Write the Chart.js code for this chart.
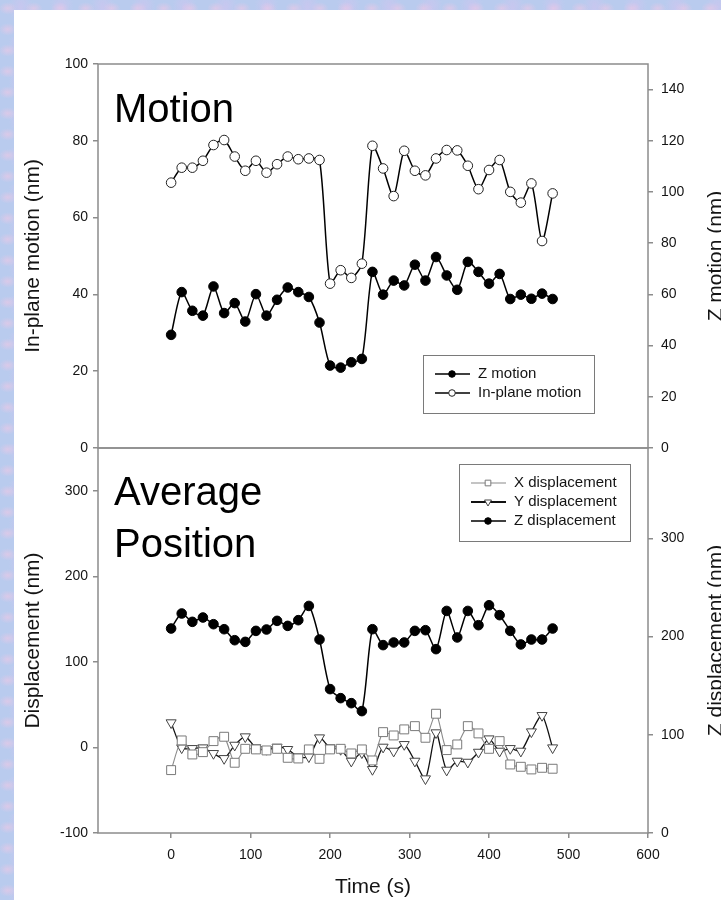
<!DOCTYPE html>
<html>
<head>
<meta charset="utf-8">
<title>Motion and average position</title>
<script src="https://cdn.jsdelivr.net/npm/chart.js@4.4.0/dist/chart.umd.min.js"></script>
<style>
  html, body { margin: 0; padding: 0; }
  body {
    width: 721px;
    height: 900px;
    overflow: hidden;
    position: relative;
    background-color: #b9cbee;
    background-image:
      radial-gradient(ellipse at 30% 40%, rgba(232, 200, 230, 0.7) 0, rgba(232, 200, 230, 0) 9px),
      radial-gradient(ellipse at 70% 70%, rgba(172, 212, 240, 0.7) 0, rgba(172, 212, 240, 0) 8px),
      radial-gradient(ellipse at 50% 20%, rgba(210, 196, 240, 0.6) 0, rgba(210, 196, 240, 0) 12px);
    background-size: 26px 21px, 33px 27px, 41px 37px;
  }
  #sheet { position: absolute; left: 14px; top: 10px; right: 0; bottom: 0; background: #ffffff; }
  canvas { position: absolute; left: 0; top: 0; }
</style>
</head>
<body>
<div id="sheet"></div>
<canvas id="motion" width="721" height="900"></canvas>
<canvas id="position" width="721" height="900"></canvas>
<script>
// Sample times (s)
const TIME = [0, 13.3, 26.7, 40, 53.3, 66.7, 80, 93.3, 106.7, 120, 133.3, 146.7, 160, 173.3,
  186.7, 200, 213.3, 226.7, 240, 253.3, 266.7, 280, 293.3, 306.7, 320, 333.3, 346.7, 360,
  373.3, 386.7, 400, 413.3, 426.7, 440, 453.3, 466.7, 480];

// Top panel (nm)
const Z_MOTION = [44.2, 60.9, 53.6, 51.7, 63.1, 52.7, 56.6, 49.4, 60.1, 51.7, 57.9, 62.7, 60.9,
  59.0, 49.0, 32.2, 31.4, 33.5, 34.8, 68.8, 59.9, 65.4, 63.5, 71.6, 65.4, 74.6, 67.4, 61.8,
  72.7, 68.8, 64.2, 68.0, 58.2, 59.9, 58.3, 60.3, 58.2];
const INPLANE_MOTION = [69.1, 73.0, 73.0, 74.8, 78.9, 80.2, 75.9, 72.2, 74.8, 71.7, 73.9, 75.9,
  75.2, 75.4, 75.0, 42.8, 46.3, 44.3, 48.0, 78.7, 72.8, 65.6, 77.4, 72.2, 71.0, 75.4, 77.6,
  77.5, 73.5, 67.4, 72.4, 75.0, 66.7, 63.9, 68.9, 53.9, 66.3];

// Bottom panel (nm)
const X_DISP = [-26.5, 8.2, -8.2, -5.5, 7.4, 12.5, -17.9, -1.6, -2.3, -3.5, -1.6, -12.1, -12.9,
  -2.3, -13.3, -2.3, -1.6, -7.0, -2.3, -15.2, 17.9, 14.0, 21.1, 24.9, 11.3, 39.4, -3.1, 3.5,
  24.9, 16.4, -1.6, 7.4, -19.9, -22.6, -25.7, -23.8, -24.9];
const Y_DISP = [28.9, -0.4, -1.2, -0.4, -7.0, -12.9, 2.7, 12.5, -0.4, -2.3, 0.4, -2.3, -10.9,
  -10.9, 11.3, -0.4, -2.3, -16.0, -6.2, -25.7, 0.4, -4.3, 3.5, -16.0, -36.6, 17.2, -26.5,
  -16.0, -17.2, -5.5, 10.1, -4.3, -1.2, -4.3, 18.3, 37.4, -0.4];
const Z_DISP = [208.2, 223.5, 215.0, 219.4, 212.6, 207.5, 196.3, 194.6, 205.8, 207.2, 216.0,
  210.9, 216.7, 231.2, 197.0, 146.5, 137.3, 132.2, 124.1, 207.5, 191.3, 194.0, 194.0, 205.8,
  206.5, 187.2, 226.1, 199.1, 226.1, 211.6, 231.9, 221.8, 205.8, 192.0, 197.0, 197.0, 208.2];

// Tick labels
const TIME_TICKS = [0, 100, 200, 300, 400, 500, 600];
const INPLANE_TICKS = [0, 20, 40, 60, 80, 100];
const Z_MOTION_TICKS = [0, 20, 40, 60, 80, 100, 120, 140];
const DISP_TICKS = [-100, 0, 100, 200, 300];
const Z_DISP_TICKS = [0, 100, 200, 300];

const FONT = "'Liberation Sans', Arial, Helvetica, sans-serif";
const TEXT = '#141414';
const AXIS_GRAY = '#8c8c8c';

function pairs(values) {
  return TIME.map((t, i) => ({ x: t, y: values[i] }));
}

function fixedTicks(values) {
  return scale => { scale.ticks = values.map(v => ({ value: v })); };
}

function valueAxis(side, min, max, tickValues, width, title) {
  const axis = {
    type: 'linear',
    position: side,
    min: min,
    max: max,
    afterBuildTicks: fixedTicks(tickValues),
    afterFit: s => { s.width = width; },
    border: { display: false },
    grid: { drawOnChartArea: false, drawTicks: true, tickLength: 5, color: AXIS_GRAY, lineWidth: 1.5 },
    ticks: { color: TEXT, font: { family: FONT, size: 14 }, padding: side === 'left' ? 5 : 8,
      callback: v => String(v) },
  };
  if (title) {
    axis.title = { display: true, text: title, color: TEXT, font: { family: FONT, size: 21 },
      padding: { top: 21, bottom: 0 } };
  }
  return axis;
}

// Box around the plot area
const framePlugin = {
  id: 'frame',
  afterDatasetsDraw(chart) {
    const { ctx, chartArea: a } = chart;
    ctx.save();
    ctx.strokeStyle = AXIS_GRAY;
    ctx.lineWidth = 1.5;
    ctx.strokeRect(a.left, a.top, a.right - a.left, a.bottom - a.top);
    ctx.restore();
  },
};

// Big panel caption, e.g. "Motion"
const panelLabelPlugin = {
  id: 'panelLabel',
  afterDraw(chart, args, opts) {
    const ctx = chart.ctx;
    ctx.save();
    ctx.fillStyle = '#000';
    ctx.font = '40px ' + FONT;
    ctx.textBaseline = 'alphabetic';
    opts.lines.forEach((line, i) => ctx.fillText(line, opts.x, opts.y + i * opts.lineHeight));
    ctx.restore();
  },
};

// Right-hand axis title reading bottom to top
const sideTitlePlugin = {
  id: 'sideTitle',
  afterDraw(chart, args, opts) {
    const { ctx, chartArea: a } = chart;
    ctx.save();
    ctx.translate(opts.x, (a.top + a.bottom) / 2);
    ctx.rotate(-Math.PI / 2);
    ctx.fillStyle = TEXT;
    ctx.font = '21px ' + FONT;
    ctx.textAlign = 'center';
    ctx.textBaseline = 'middle';
    ctx.fillText(opts.text, 0, 0);
    ctx.restore();
  },
};

// Boxed legend inside the plot
const boxLegendPlugin = {
  id: 'boxLegend',
  afterDraw(chart, args, opts) {
    const ctx = chart.ctx;
    ctx.save();
    ctx.strokeStyle = '#7a7a7a';
    ctx.lineWidth = 1;
    ctx.strokeRect(opts.left + 0.5, opts.top + 0.5, opts.width, opts.height);
    chart.data.datasets.forEach((ds, i) => {
      const y = opts.top + 19 + i * 19;
      ctx.strokeStyle = ds.borderColor;
      ctx.lineWidth = ds.legendLineWidth || ds.borderWidth;
      ctx.beginPath();
      ctx.moveTo(opts.left + 12, y);
      ctx.lineTo(opts.left + 47, y);
      ctx.stroke();
      ctx.fillStyle = ds.pointBackgroundColor;
      ctx.strokeStyle = ds.pointBorderColor;
      ctx.lineWidth = 1;
      Chart.helpers.drawPoint(ctx, {
        pointStyle: ds.pointStyle || 'circle',
        radius: ds.legendRadius,
        rotation: ds.pointRotation || 0,
        borderWidth: 1,
      }, opts.left + 29, y);
      ctx.fillStyle = TEXT;
      ctx.font = '15px ' + FONT;
      ctx.textBaseline = 'middle';
      ctx.fillText(ds.label, opts.left + 55, y);
    });
    ctx.restore();
  },
};

const plugins = [framePlugin, panelLabelPlugin, sideTitlePlugin, boxLegendPlugin];

const timeAxisBase = {
  type: 'linear',
  min: -92,
  max: 600,
  afterBuildTicks: fixedTicks(TIME_TICKS),
};

new Chart(document.getElementById('motion'), {
  type: 'line',
  data: {
    datasets: [
      {
        label: 'Z motion',
        data: pairs(Z_MOTION),
        yAxisID: 'y2',
        borderColor: '#000',
        borderWidth: 1.5,
        pointRadius: 4.8,
        legendRadius: 3.3,
        pointBackgroundColor: '#000',
        pointBorderColor: '#000',
        pointBorderWidth: 1,
        tension: 0.25,
      },
      {
        label: 'In-plane motion',
        data: pairs(INPLANE_MOTION),
        yAxisID: 'y',
        borderColor: '#000',
        borderWidth: 1.5,
        pointRadius: 4.8,
        legendRadius: 3.3,
        pointBackgroundColor: '#fff',
        pointBorderColor: '#222',
        pointBorderWidth: 1,
        tension: 0.25,
      },
    ],
  },
  options: {
    responsive: false,
    animation: false,
    events: [],
    layout: { padding: { top: 64, bottom: 452, left: 0, right: 0 } },
    scales: {
      x: { ...timeAxisBase, display: false },
      y: valueAxis('left', 0, 100, INPLANE_TICKS, 98, 'In-plane motion (nm)'),
      y2: valueAxis('right', 0, 150, Z_MOTION_TICKS, 73, null),
    },
    plugins: {
      legend: { display: false },
      tooltip: { enabled: false },
      panelLabel: { lines: ['Motion'], x: 114, y: 122, lineHeight: 52 },
      sideTitle: { text: 'Z motion (nm)', x: 716 },
      boxLegend: { left: 423, top: 355, width: 171, height: 58 },
    },
  },
  plugins: plugins,
});

new Chart(document.getElementById('position'), {
  type: 'line',
  data: {
    datasets: [
      {
        label: 'X displacement',
        data: pairs(X_DISP),
        yAxisID: 'y',
        borderColor: '#8a8a8a',
        borderWidth: 1.1,
        pointStyle: 'rect',
        pointRadius: 6.3,
        legendRadius: 4,
        pointBackgroundColor: '#fff',
        pointBorderColor: '#7a7a7a',
        pointBorderWidth: 1,
        tension: 0.25,
      },
      {
        label: 'Y displacement',
        data: pairs(Y_DISP),
        yAxisID: 'y',
        borderColor: '#111',
        borderWidth: 1.3,
        legendLineWidth: 2,
        pointStyle: 'triangle',
        pointRotation: 180,
        pointRadius: 5.8,
        legendRadius: 4,
        pointBackgroundColor: '#fff',
        pointBorderColor: '#444',
        pointBorderWidth: 1,
        tension: 0.25,
      },
      {
        label: 'Z displacement',
        data: pairs(Z_DISP),
        yAxisID: 'y2',
        borderColor: '#000',
        borderWidth: 1.5,
        pointRadius: 4.8,
        legendRadius: 3.3,
        pointBackgroundColor: '#000',
        pointBorderColor: '#000',
        pointBorderWidth: 1,
        tension: 0.25,
      },
    ],
  },
  options: {
    responsive: false,
    animation: false,
    events: [],
    layout: { padding: { top: 448, bottom: 0, left: 0, right: 0 } },
    scales: {
      x: {
        ...timeAxisBase,
        position: 'bottom',
        afterFit: s => { s.height = 67; },
        border: { display: false },
        grid: { drawOnChartArea: false, drawTicks: true, tickLength: 5, color: AXIS_GRAY, lineWidth: 1.5 },
        ticks: { color: TEXT, font: { family: FONT, size: 14 }, padding: 9, maxRotation: 0,
          callback: v => String(v) },
        title: { display: true, text: 'Time (s)', color: TEXT, font: { family: FONT, size: 21 },
          padding: { top: 0, bottom: 0 } },
      },
      y: valueAxis('left', -100, 350, DISP_TICKS, 98, 'Displacement (nm)'),
      y2: valueAxis('right', 0, 392, Z_DISP_TICKS, 73, null),
    },
    plugins: {
      legend: { display: false },
      tooltip: { enabled: false },
      panelLabel: { lines: ['Average', 'Position'], x: 114, y: 505, lineHeight: 52 },
      sideTitle: { text: 'Z displacement (nm)', x: 716 },
      boxLegend: { left: 459, top: 464, width: 171, height: 77 },
    },
  },
  plugins: plugins,
});
</script>
</body>
</html>
